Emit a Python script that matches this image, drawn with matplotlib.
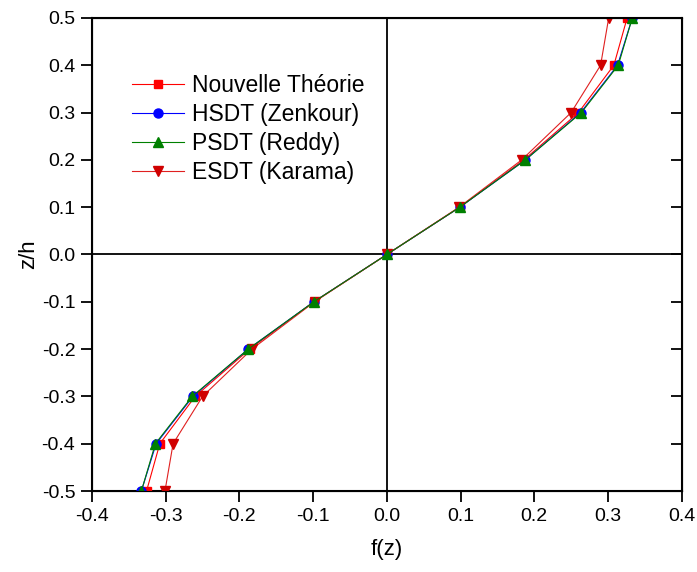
import matplotlib
matplotlib.use('Agg')
import matplotlib.pyplot as plt

plt.rcParams['font.family'] = ['Liberation Sans', 'DejaVu Sans']

z = [-0.5, -0.4, -0.3, -0.2, -0.1, 0.0, 0.1, 0.2, 0.3, 0.4, 0.5]
f_nouvelle = [-0.326, -0.308, -0.260, -0.186, -0.099, 0.0, 0.099, 0.186, 0.260, 0.308, 0.326]
f_hsdt = [-0.333, -0.313, -0.263, -0.188, -0.099, 0.0, 0.099, 0.188, 0.263, 0.313, 0.333]
f_psdt = [-0.333, -0.314, -0.264, -0.188, -0.099, 0.0, 0.099, 0.188, 0.264, 0.314, 0.333]
f_esdt = [-0.301, -0.290, -0.250, -0.183, -0.098, 0.0, 0.098, 0.183, 0.250, 0.290, 0.301]

labels = ['Nouvelle Théorie', 'HSDT (Zenkour)', 'PSDT (Reddy)', 'ESDT (Karama)']

fig = plt.figure(figsize=(6.97, 5.72), dpi=100)
ax = fig.add_axes([0.132, 0.1416, 0.846, 0.827])

ax.axhline(0, color='black', lw=1.3, zorder=1)
ax.axvline(0, color='black', lw=1.3, zorder=1)

ax.plot(f_nouvelle, z, color='#FF0000', lw=0.8, marker='s', ms=6, label=labels[0], zorder=3)
ax.plot(f_hsdt, z, color='#0000FF', lw=0.8, marker='o', ms=6.5, label=labels[1], zorder=3)
ax.plot(f_psdt, z, color='#008000', lw=0.8, marker='^', ms=7, label=labels[2], zorder=4)
ax.plot(f_esdt, z, color='#E02020', lw=0.8, marker='v', ms=7, mfc='#D00000', mec='#D00000',
        label=labels[3], zorder=3)

ax.set_xlim(-0.4, 0.4)
ax.set_ylim(-0.5, 0.5)
ax.set_xticks([-0.4, -0.3, -0.2, -0.1, 0.0, 0.1, 0.2, 0.3, 0.4])
ax.set_yticks([-0.5, -0.4, -0.3, -0.2, -0.1, 0.0, 0.1, 0.2, 0.3, 0.4, 0.5])
ax.xaxis.set_major_formatter(matplotlib.ticker.FormatStrFormatter('%.1f'))
ax.yaxis.set_major_formatter(matplotlib.ticker.FormatStrFormatter('%.1f'))
ax.tick_params(direction='out', length=8, width=1.3, labelsize=14, pad=4)
for s in ax.spines.values():
    s.set_linewidth(1.5)

ax2 = ax.twinx()
ax2.set_ylim(-0.5, 0.5)
ax2.set_yticks(ax.get_yticks())
ax2.tick_params(direction='in', length=8, width=1.3, labelright=False)

ax.set_xlabel('f(z)', fontsize=16, labelpad=10)
ax.set_ylabel('z/h', fontsize=16, labelpad=2)

ax.legend(loc='upper left', bbox_to_anchor=(0.068, 0.882), frameon=False, fontsize=16.5,
          handlelength=2.26, handletextpad=0.35, labelspacing=0.26, borderaxespad=0,
          borderpad=0)

fig.savefig('out.png', dpi=100)
